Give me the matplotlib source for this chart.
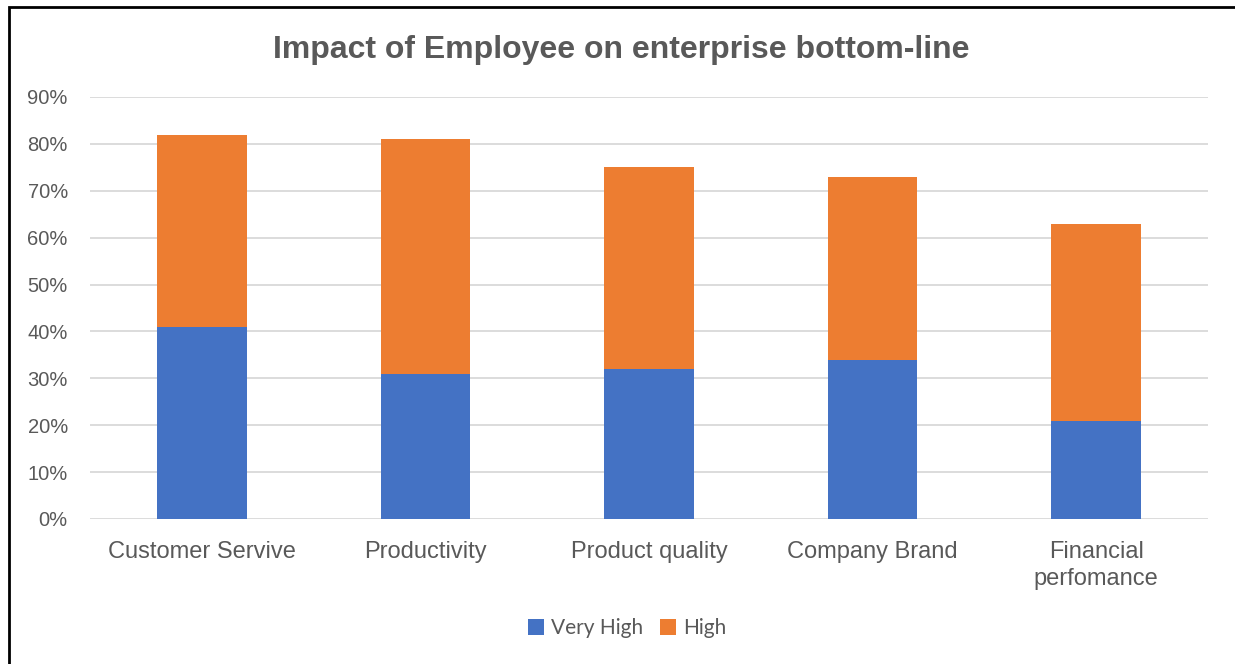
import matplotlib.pyplot as plt
from matplotlib.patches import Rectangle
from matplotlib.ticker import PercentFormatter

categories = ["Customer Servive", "Productivity", "Product quality", "Company Brand", "Financial\nperfomance"]
very_high = [41, 31, 32, 34, 21]
high = [41, 50, 43, 39, 42]
yticks = [0, 10, 20, 30, 40, 50, 60, 70, 80, 90]

BLUE = "#4472C4"
ORANGE = "#ED7D31"
TEXT = "#595959"
GRID = "#D9D9D9"


def main():
    plt.rcParams["font.family"] = ["Liberation Sans", "DejaVu Sans"]
    fig = plt.figure(figsize=(12.35, 6.64), dpi=100)
    ax = fig.add_axes([90 / 1235, 1 - 519 / 664, (1208 - 90) / 1235, (519 - 97) / 664])

    x = list(range(len(categories)))
    ax.bar(x, very_high, width=0.4, color=BLUE, label="Very High", zorder=3)
    ax.bar(x, high, width=0.4, bottom=very_high, color=ORANGE, label="High", zorder=3)

    ax.set_xlim(-0.5, len(categories) - 0.5)
    ax.set_ylim(0, 90)
    ax.set_yticks(yticks)
    ax.yaxis.set_major_formatter(PercentFormatter(decimals=0))
    ax.set_xticks(x)
    ax.set_xticklabels(categories, linespacing=1.3)
    ax.grid(axis="y", color=GRID, linewidth=1.3, zorder=0)
    for s in ax.spines.values():
        s.set_visible(False)
    ax.tick_params(axis="both", length=0, colors=TEXT)
    ax.tick_params(axis="x", labelsize=17, pad=16)
    ax.tick_params(axis="y", labelsize=14.5, pad=16)

    fig.text(0.503, 0.925, "Impact of Employee on enterprise bottom-line",
             ha="center", va="center", fontsize=23, fontweight="bold", color=TEXT)

    leg = fig.legend(loc="center", bbox_to_anchor=(0.508, 0.054), ncol=2, frameon=False,
                     prop={"family": ["Lato", "DejaVu Sans"], "size": 15},
                     handlelength=0.75, handleheight=0.75, handletextpad=0.35,
                     columnspacing=0.8)
    for t in leg.get_texts():
        t.set_color(TEXT)

    # outer frame (top and left edges visible in the reference)
    fig.add_artist(Rectangle((8.5 / 1235, -0.1), 1.2, 1.1 - 7.5 / 664, transform=fig.transFigure,
                             fill=False, edgecolor="black", linewidth=2))

    fig.savefig("out.png", dpi=100)


if __name__ == "__main__":
    main()
